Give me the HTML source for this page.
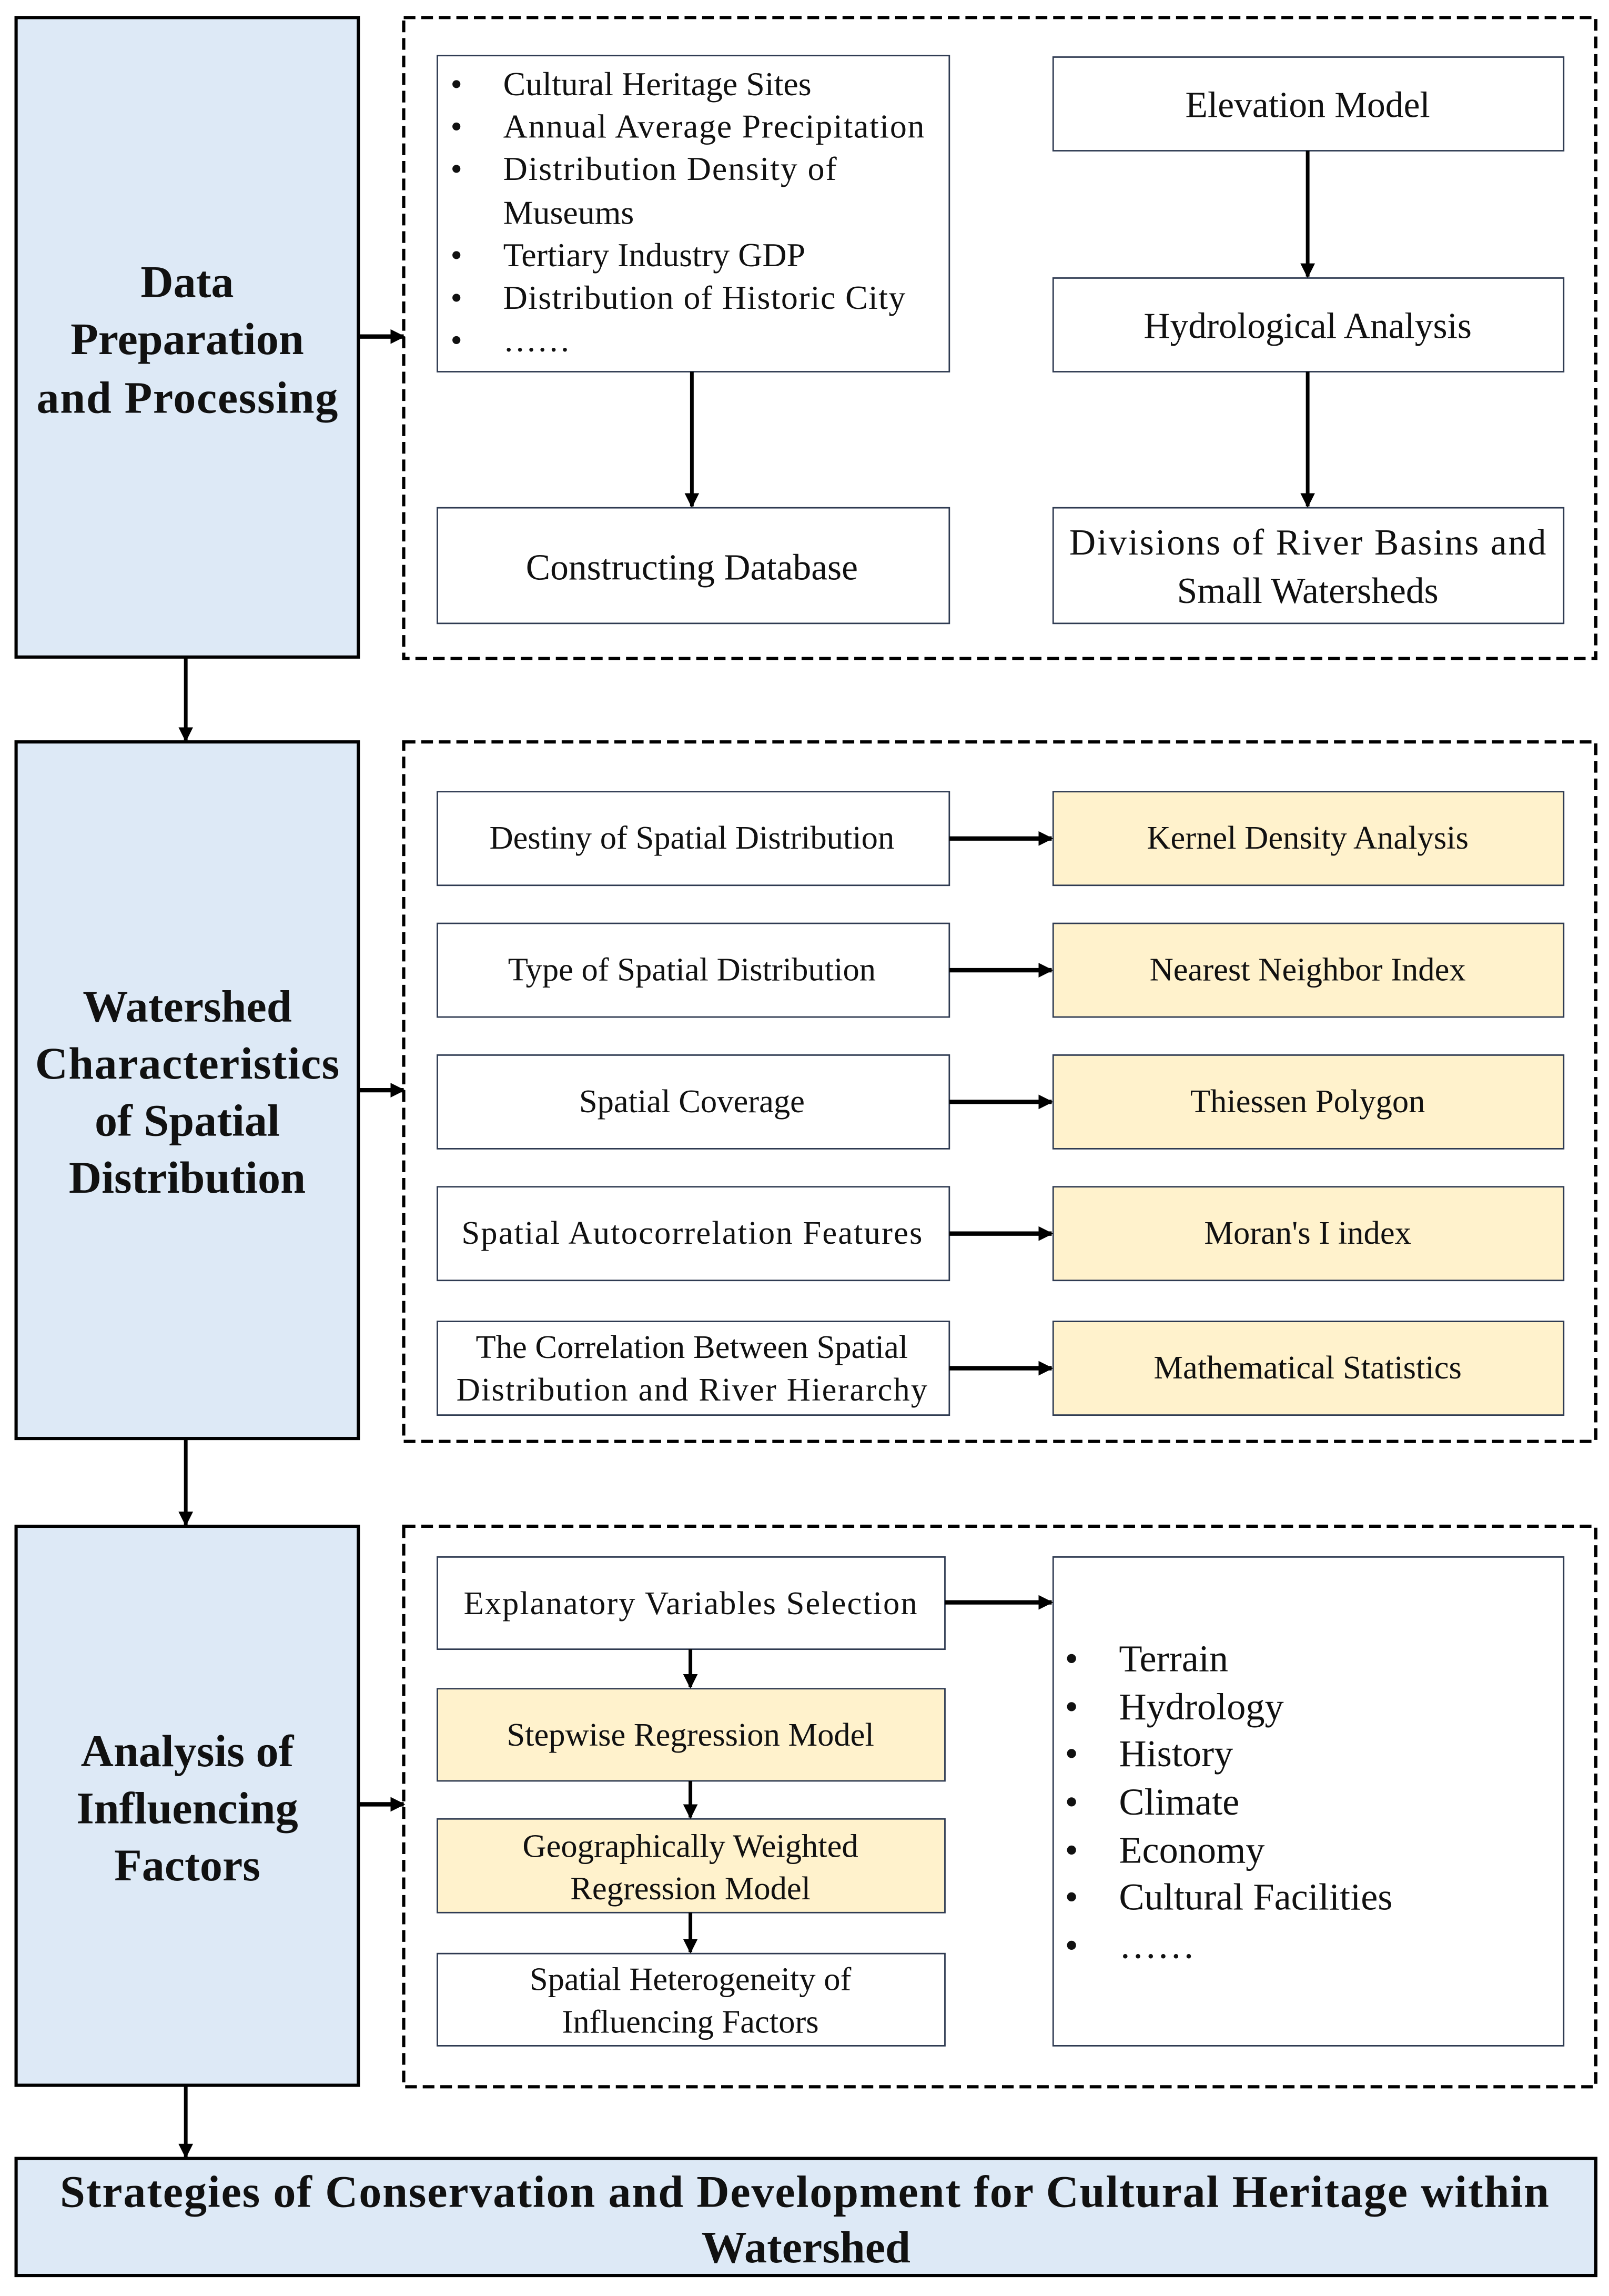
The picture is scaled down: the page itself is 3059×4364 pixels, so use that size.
<!DOCTYPE html>
<html><head><meta charset="utf-8"><style>
html,body{margin:0;padding:0;background:#fff;}
svg{display:block;}
text{font-family:"Liberation Serif",serif;fill:#111;}
.b{font-weight:bold;}
</style></head><body>
<svg width="3059" height="4364" viewBox="0 0 1100 1569" preserveAspectRatio="none" xmlns="http://www.w3.org/2000/svg">
<defs>
<marker id="ah" markerWidth="10" markerHeight="10" refX="9" refY="5" orient="auto" markerUnits="userSpaceOnUse">
<path d="M0,0 L10,5 L0,10 z" fill="#000"/>
</marker>
</defs>
<g stroke="#000" stroke-width="2.2" fill="#dde9f6">
<rect x="11" y="12" width="234" height="437"/>
<rect x="11" y="507" width="234" height="476"/>
<rect x="11" y="1043" width="234" height="382"/>
<rect x="11" y="1475" width="1080" height="80"/>
</g>
<g stroke="#000" stroke-width="2.2" fill="none" stroke-dasharray="8,4">
<rect x="276" y="12" width="815" height="438"/>
<rect x="276" y="507" width="815" height="478"/>
<rect x="276" y="1043" width="815" height="383"/>
</g>
<g stroke="#2f3b52" stroke-width="1" fill="#fff">
<rect x="299" y="38" width="350" height="216"/>
<rect x="720" y="39" width="349" height="64"/>
<rect x="720" y="190" width="349" height="64"/>
<rect x="720" y="347" width="349" height="79"/>
<rect x="299" y="347" width="350" height="79"/>
<rect x="299" y="541" width="350" height="64"/>
<rect x="299" y="631" width="350" height="64"/>
<rect x="299" y="721" width="350" height="64"/>
<rect x="299" y="811" width="350" height="64"/>
<rect x="299" y="903" width="350" height="64"/>
<rect x="299" y="1064" width="347" height="63"/>
<rect x="299" y="1335" width="347" height="63"/>
<rect x="720" y="1064" width="349" height="334"/>
</g>
<g stroke="#2f3b52" stroke-width="1" fill="#fff2cc">
<rect x="720" y="541" width="349" height="64"/>
<rect x="720" y="631" width="349" height="64"/>
<rect x="720" y="721" width="349" height="64"/>
<rect x="720" y="811" width="349" height="64"/>
<rect x="720" y="903" width="349" height="64"/>
<rect x="299" y="1154" width="347" height="63"/>
<rect x="299" y="1243" width="347" height="64"/>
</g>
<g stroke="#000" stroke-width="3" marker-end="url(#ah)">
<line x1="245" y1="230" x2="276" y2="230"/>
<line x1="245" y1="745" x2="276" y2="745"/>
<line x1="245" y1="1233" x2="276" y2="1233"/>
<line x1="649" y1="573" x2="719" y2="573"/>
<line x1="649" y1="663" x2="719" y2="663"/>
<line x1="649" y1="753" x2="719" y2="753"/>
<line x1="649" y1="843" x2="719" y2="843"/>
<line x1="649" y1="935" x2="719" y2="935"/>
<line x1="646" y1="1095" x2="719" y2="1095"/>
</g>
<g stroke="#000" stroke-width="2.5" marker-end="url(#ah)">
<line x1="127" y1="449" x2="127" y2="506"/>
<line x1="127" y1="983" x2="127" y2="1042"/>
<line x1="127" y1="1425" x2="127" y2="1474"/>
<line x1="473" y1="254" x2="473" y2="346"/>
<line x1="894" y1="103" x2="894" y2="189"/>
<line x1="894" y1="254" x2="894" y2="346"/>
<line x1="472" y1="1127" x2="472" y2="1153"/>
<line x1="472" y1="1217" x2="472" y2="1242"/>
<line x1="472" y1="1307" x2="472" y2="1334"/>
</g>
<g class="b" font-size="31" text-anchor="middle">
<text x="128" y="203" class="b">Data</text>
<text x="128" y="242" class="b">Preparation</text>
<text x="128" y="282" textLength="206" class="b">and Processing</text>
<text x="128" y="698" class="b">Watershed</text>
<text x="128" y="737" textLength="208" class="b">Characteristics</text>
<text x="128" y="776" class="b">of Spatial</text>
<text x="128" y="815" class="b">Distribution</text>
<text x="128" y="1207" class="b">Analysis of</text>
<text x="128" y="1246" class="b">Influencing</text>
<text x="128" y="1285" class="b">Factors</text>
<text x="550" y="1508" textLength="1018" class="b">Strategies of Conservation and Development for Cultural Heritage within</text>
<text x="551" y="1546" class="b">Watershed</text>
</g>
<g font-size="23">
<text x="308" y="65">•</text><text x="344" y="65">Cultural Heritage Sites</text>
<text x="308" y="94">•</text><text x="344" y="94" textLength="288">Annual Average Precipitation</text>
<text x="308" y="123">•</text><text x="344" y="123" textLength="228">Distribution Density of</text>
<text x="344" y="153">Museums</text>
<text x="308" y="182">•</text><text x="344" y="182">Tertiary Industry GDP</text>
<text x="308" y="211">•</text><text x="344" y="211" textLength="275">Distribution of Historic City</text>
<text x="308" y="240">•</text><text x="344" y="240">……</text>
</g>
<g font-size="25" text-anchor="middle">
<text x="894" y="80">Elevation Model</text>
<text x="894" y="231">Hydrological Analysis</text>
<text x="894" y="379" textLength="326">Divisions of River Basins and</text>
<text x="894" y="412">Small Watersheds</text>
<text x="473" y="396">Constructing Database</text>
</g>
<g font-size="22.5" text-anchor="middle">
<text x="473" y="580">Destiny of Spatial Distribution</text>
<text x="473" y="670">Type of Spatial Distribution</text>
<text x="473" y="760">Spatial Coverage</text>
<text x="473" y="850" textLength="315">Spatial Autocorrelation Features</text>
<text x="473" y="928">The Correlation Between Spatial</text>
<text x="473" y="957" textLength="322">Distribution and River Hierarchy</text>
<text x="894" y="580">Kernel Density Analysis</text>
<text x="894" y="670">Nearest Neighbor Index</text>
<text x="894" y="760">Thiessen Polygon</text>
<text x="894" y="850">Moran's I index</text>
<text x="894" y="942">Mathematical Statistics</text>
<text x="472" y="1103" textLength="310">Explanatory Variables Selection</text>
<text x="472" y="1193">Stepwise Regression Model</text>
<text x="472" y="1269">Geographically Weighted</text>
<text x="472" y="1298">Regression Model</text>
<text x="472" y="1360">Spatial Heterogeneity of</text>
<text x="472" y="1389">Influencing Factors</text>
</g>
<g font-size="26">
<text x="728" y="1142">•</text><text x="765" y="1142">Terrain</text>
<text x="728" y="1175">•</text><text x="765" y="1175">Hydrology</text>
<text x="728" y="1207">•</text><text x="765" y="1207">History</text>
<text x="728" y="1240">•</text><text x="765" y="1240">Climate</text>
<text x="728" y="1273">•</text><text x="765" y="1273">Economy</text>
<text x="728" y="1305">•</text><text x="765" y="1305">Cultural Facilities</text>
<text x="728" y="1338">•</text><text x="765" y="1338">……</text>
</g>
</svg>
</body></html>
